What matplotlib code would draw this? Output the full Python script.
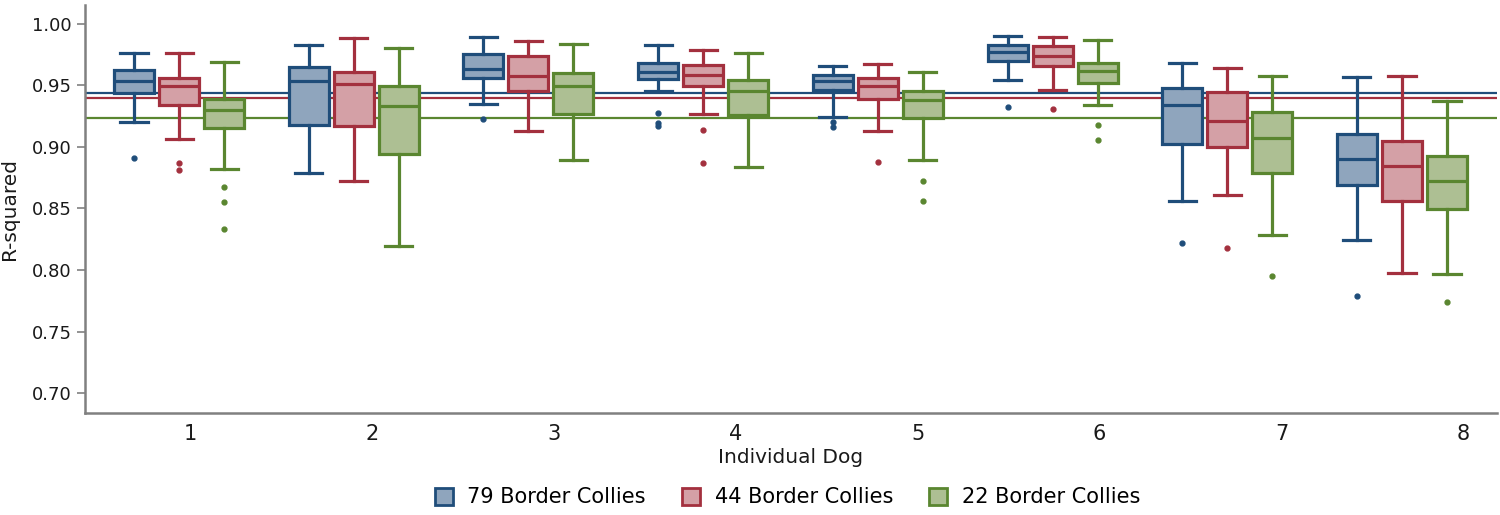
import matplotlib
matplotlib.use("Agg")
import matplotlib.pyplot as plt
from matplotlib.patches import Patch

# ---- data ----
dogs = [1, 2, 3, 4, 5, 6, 7, 8]
dog_labels = ["1", "2", "3", "4", "5", "6", "7", "8"]
series = ["79 Border Collies", "44 Border Collies", "22 Border Collies"]

# each entry: (lower whisker, Q1, median, Q3, upper whisker)
box_79 = [
    (0.920, 0.9435, 0.9535, 0.9624, 0.9759),
    (0.8784, 0.9178, 0.9538, 0.9651, 0.9827),
    (0.9351, 0.9562, 0.9635, 0.9757, 0.9892),
    (0.9451, 0.9551, 0.9608, 0.9678, 0.9830),
    (0.9246, 0.9459, 0.9535, 0.9581, 0.9654),
    (0.9540, 0.9700, 0.9768, 0.9827, 0.9903),
    (0.8562, 0.9027, 0.9340, 0.9476, 0.9684),
    (0.8243, 0.8689, 0.8900, 0.9102, 0.9565),
]
box_44 = [
    (0.9067, 0.9343, 0.9492, 0.9559, 0.9759),
    (0.8722, 0.9167, 0.9511, 0.9608, 0.9881),
    (0.9130, 0.9457, 0.9578, 0.9741, 0.9862),
    (0.9265, 0.9494, 0.9584, 0.9668, 0.9784),
    (0.9127, 0.9392, 0.9494, 0.9557, 0.9670),
    (0.9459, 0.9659, 0.9741, 0.9819, 0.9889),
    (0.8608, 0.9000, 0.9211, 0.9443, 0.9638),
    (0.7978, 0.8562, 0.8843, 0.9051, 0.9573),
]
box_22 = [
    (0.8821, 0.9151, 0.9300, 0.9389, 0.9689),
    (0.8197, 0.8940, 0.9335, 0.9492, 0.9803),
    (0.8894, 0.9267, 0.9492, 0.9597, 0.9835),
    (0.8840, 0.9262, 0.9451, 0.9546, 0.9765),
    (0.8894, 0.9238, 0.9381, 0.9457, 0.9611),
    (0.9340, 0.9522, 0.9613, 0.9678, 0.9868),
    (0.8284, 0.8784, 0.9073, 0.9284, 0.9573),
    (0.7970, 0.8494, 0.8719, 0.8927, 0.9373),
]
outliers_79 = [[0.8913], [], [0.9227], [0.9273, 0.9192, 0.9167], [0.9205, 0.9165],
               [0.9327], [0.8216], [0.7789]]
outliers_44 = [[0.8867, 0.8816], [], [], [0.9135, 0.8873], [0.8878],
               [0.9308], [0.8178], []]
outliers_22 = [[0.8678, 0.8549, 0.8330], [], [], [], [0.8727, 0.8559],
               [0.9178, 0.9059], [0.7949], [0.7743]]

# overall reference means (horizontal lines)
overall_means = [0.9440, 0.9394, 0.9232]

y_ticks = [0.70, 0.75, 0.80, 0.85, 0.90, 0.95, 1.00]

# ---- styling / layout ----
edge_colors = ["#1f4d7a", "#a3303e", "#5a8630"]
fill_colors = ["#8fa5bd", "#d4a0a6", "#adbf93"]
offsets = [-0.2576, 0.0, 0.2576]
# category labels in the source sit on a slightly wider grid than the boxes
label_step = 1.0413
label_shift = 0.0217

plt.rcParams["font.family"] = ["DejaVu Sans"]
fig = plt.figure(figsize=(15, 5.15), dpi=100)
ax = fig.add_axes([0.0567, 0.198, 0.9413, 0.792])

for m, ec in zip(overall_means, edge_colors):
    ax.axhline(m, color=ec, lw=1.6, zorder=1)

all_boxes = [box_79, box_44, box_22]
all_out = [outliers_79, outliers_44, outliers_22]
for k in range(3):
    stats = []
    for i, d in enumerate(dogs):
        lo, q1, med, q3, hi = all_boxes[k][i]
        stats.append(dict(whislo=lo, q1=q1, med=med, q3=q3, whishi=hi,
                          fliers=all_out[k][i]))
    pos = [d + offsets[k] for d in dogs]
    ec = edge_colors[k]
    ax.bxp(stats, positions=pos, widths=0.229, capwidths=0.155,
           patch_artist=True, manage_ticks=False,
           boxprops=dict(facecolor=fill_colors[k], edgecolor=ec, linewidth=2.3),
           medianprops=dict(color=ec, linewidth=2.3),
           whiskerprops=dict(color=ec, linewidth=2.3),
           capprops=dict(color=ec, linewidth=2.3),
           flierprops=dict(marker="o", markerfacecolor=ec, markeredgecolor=ec,
                           markersize=3.5, linestyle="none"),
           zorder=3)

ax.set_xlim(0.462, 8.544)
ax.set_ylim(0.684, 1.015)
ax.set_yticks(y_ticks)
ax.set_yticklabels([f"{v:.2f}" for v in y_ticks])
ax.set_xticks([d * label_step + label_shift for d in dogs])
ax.set_xticklabels(dog_labels)

for s in ["top", "right"]:
    ax.spines[s].set_visible(False)
for s in ["left", "bottom"]:
    ax.spines[s].set_color("#808080")
    ax.spines[s].set_linewidth(1.8)

ax.tick_params(axis="y", length=6, width=1.2, color="#808080", pad=3.5,
               labelsize=13, labelcolor="#1a1a1a")
ax.tick_params(axis="x", length=0, pad=8, labelsize=15, labelcolor="#1a1a1a")

ax.set_xlabel("Individual Dog", fontsize=14.5, color="#1a1a1a", labelpad=3)
ax.set_ylabel("R-squared", fontsize=14.5, color="#1a1a1a", labelpad=9)

handles = [Patch(facecolor=fc, edgecolor=ec, linewidth=2)
           for fc, ec in zip(fill_colors, edge_colors)]
fig.legend(handles, series, loc="center", bbox_to_anchor=(0.525, 0.034),
           ncol=3, frameon=False, fontsize=15, handlelength=0.87,
           handleheight=0.92, handletextpad=0.68, columnspacing=1.75)

fig.savefig("out.png", dpi=100)
